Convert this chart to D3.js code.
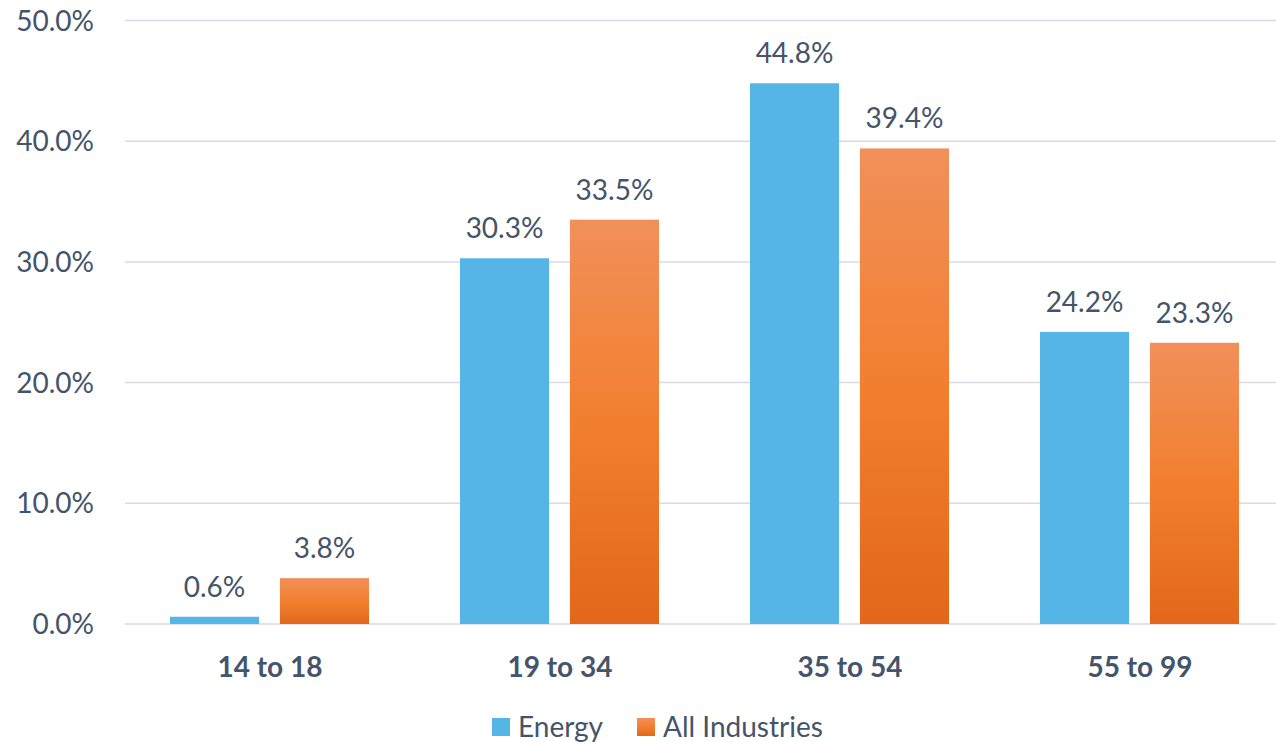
<!DOCTYPE html>
<html>
<head>
<meta charset="utf-8">
<script src="https://cdn.jsdelivr.net/npm/d3@7"></script>
<style>
  body { margin: 0; background: #fff; }
  svg text { font-family: Lato, "Open Sans", sans-serif; fill: #44546A; }
</style>
</head>
<body>
<svg id="svg"></svg>
<script>
// age groups and the share of workers in each
const categories = ["14 to 18", "19 to 34", "35 to 54", "55 to 99"];
const seriesNames = ["Energy", "All Industries"];
const energy = [0.6, 30.3, 44.8, 24.2];
const allIndustries = [3.8, 33.5, 39.4, 23.3];
const yTicks = [0, 10, 20, 30, 40, 50];

const w = 1276;
const h = 742;

let svg = d3.select("#svg")
    .attr("width", w)
    .attr("height", h);

// orange bars fade from light top to darker bottom
let defs = svg.append("defs");
let grad = defs.append("linearGradient")
    .attr("id", "orangeGrad")
    .attr("x1", 0).attr("y1", 0)
    .attr("x2", 0).attr("y2", 1);
grad.append("stop").attr("offset", "0%").attr("stop-color", "#F1905A");
grad.append("stop").attr("offset", "50%").attr("stop-color", "#F27F2F");
grad.append("stop").attr("offset", "100%").attr("stop-color", "#E2671A");

const colors = ["#56B5E7", "url(#orangeGrad)"];

let xScale = d3.scaleBand()
    .domain(categories)
    .range([125, 1285])
    .paddingInner(0)
    .paddingOuter(0);

let xInner = d3.scaleBand()
    .domain(seriesNames)
    .range([45, 244])
    .paddingInner(0.19);

let yScale = d3.scaleLinear()
    .domain([0, 50])
    .range([624, 20.5]);

// gridlines
svg.append("g")
    .selectAll("line")
    .data(yTicks)
    .enter()
    .append("line")
    .attr("x1", 125)
    .attr("x2", w)
    .attr("y1", d => yScale(d))
    .attr("y2", d => yScale(d))
    .attr("stroke", "#D9DAE6")
    .attr("stroke-width", 1.5);

// y tick labels
svg.append("g")
    .selectAll("text")
    .data(yTicks)
    .enter()
    .append("text")
    .attr("x", 94)
    .attr("y", d => yScale(d))
    .attr("dy", "0.36em")
    .attr("text-anchor", "end")
    .attr("font-size", "28px")
    .text(d => d.toFixed(1) + "%");

let rows = categories.map((c, i) => ({ cat: c, vals: [energy[i], allIndustries[i]] }));

let groups = svg.selectAll(".grp")
    .data(rows)
    .enter()
    .append("g")
    .attr("class", "grp")
    .attr("transform", d => "translate(" + xScale(d.cat) + ",0)");

groups.selectAll("rect")
    .data(d => d.vals.map((v, j) => ({ name: seriesNames[j], v: v, j: j })))
    .enter()
    .append("rect")
    .attr("x", d => xInner(d.name))
    .attr("y", d => yScale(d.v))
    .attr("width", xInner.bandwidth())
    .attr("height", d => yScale(0) - yScale(d.v))
    .attr("fill", d => colors[d.j]);

groups.selectAll(".val")
    .data(d => d.vals.map((v, j) => ({ name: seriesNames[j], v: v, j: j })))
    .enter()
    .append("text")
    .attr("class", "val")
    .attr("x", d => xInner(d.name) + xInner.bandwidth() / 2)
    .attr("y", d => yScale(d.v) - 20)
    .attr("text-anchor", "middle")
    .attr("font-size", "28px")
    .text(d => d.v.toFixed(1) + "%");

// category labels
svg.append("g")
    .selectAll("text")
    .data(categories)
    .enter()
    .append("text")
    .attr("x", d => xScale(d) + xScale.bandwidth() / 2)
    .attr("y", 677)
    .attr("text-anchor", "middle")
    .attr("font-size", "28px")
    .attr("font-weight", "bold")
    .text(d => d);

// legend
let legendX = [492, 637];
let legend = svg.append("g")
    .selectAll("g")
    .data(seriesNames)
    .enter()
    .append("g")
    .attr("transform", (d, i) => "translate(" + legendX[i] + ",718)");

legend.append("rect")
    .attr("width", 18)
    .attr("height", 18)
    .attr("fill", (d, i) => colors[i]);

legend.append("text")
    .attr("x", 26)
    .attr("y", 9)
    .attr("dy", "0.34em")
    .attr("font-size", "28px")
    .text(d => d);
</script>
</body>
</html>
